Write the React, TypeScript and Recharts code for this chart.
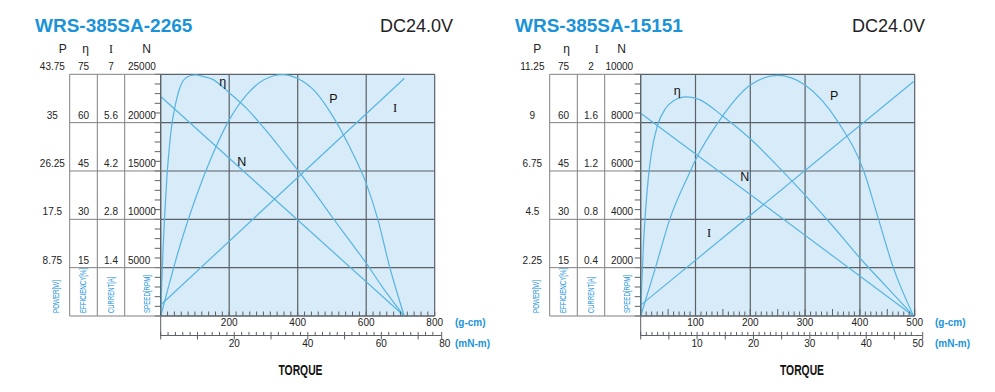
import React from 'react';
import { ComposedChart, Line, XAxis, YAxis, CartesianGrid, ReferenceDot } from 'recharts';

// ---- WRS-385SA-2265 (left) : torque in g-cm ----
const L_SPEED_T = [0, 711];
const L_SPEED = [22700, 0];
const L_CURRENT_T = [0, 711];
const L_CURRENT = [0.32, 6.88];
const L_POWER_T = [0, 25, 50, 100, 150, 200, 250, 300, 356, 400, 450, 500, 550, 600, 634, 668, 711];
const L_POWER = [0, 5.8, 11.4, 21.0, 29.0, 35.5, 40.0, 42.7, 43.7, 43.0, 40.7, 36.4, 30.8, 24.0, 17.5, 9.0, 0];
const L_EFF_T = [0, 3, 7, 12, 18, 25, 32, 40, 55, 75, 100, 125, 150, 200, 250, 300, 350, 400, 450, 500, 550, 600, 650, 711];
const L_EFF = [0, 10, 21, 32, 43, 52, 59, 64, 70.5, 74, 74.8, 74.3, 73.5, 69.3, 64.5, 58.5, 52, 45.3, 38.2, 30.8, 23.6, 16.4, 8.6, 0];

const L_GCM = [0, 200, 400, 600, 800];
const L_MNM = [20, 40, 60, 80];
const L_P_TICKS = [0, 8.75, 17.5, 26.25, 35, 43.75];
const L_I_TICKS = [0, 1.4, 2.8, 4.2, 5.6, 7];
const L_N_TICKS = [0, 5000, 10000, 15000, 20000, 25000];

// ---- WRS-385SA-15151 (right) ----
const R_SPEED_T = [0, 498];
const R_SPEED = [8390, 0];
const R_CURRENT_T = [0, 498];
const R_CURRENT = [0.09, 1.94];
const R_POWER_T = [0, 27, 53, 88, 100, 141, 200, 250, 300, 361, 407, 434, 461, 498];
const R_POWER = [0, 2.25, 4.5, 6.6, 7.26, 9.0, 10.75, 11.2, 10.75, 9.0, 6.75, 4.5, 2.25, 0];
const R_EFF_T = [0, 2, 5, 9, 14, 20, 30, 45, 60, 83, 105, 150, 200, 250, 300, 350, 400, 450, 498];
const R_EFF = [0, 10, 22, 33, 43, 51, 58.8, 64.3, 66.8, 68, 67.3, 62, 55, 46.5, 37.5, 28, 18, 8.8, 0];

const R_GCM = [0, 100, 200, 300, 400, 500];
const R_MNM = [10, 20, 30, 40, 50];
const R_P_TICKS = [0, 2.25, 4.5, 6.75, 9, 11.25];
const R_I_TICKS = [0, 0.4, 0.8, 1.2, 1.6, 2];
const R_N_TICKS = [0, 2000, 4000, 6000, 8000, 10000];

const EFF_TICKS = [0, 15, 30, 45, 60, 75];

// axis ids: recharts stacks same-side axes in id order, so prefix them
const Y_N = 'y1N';
const Y_I = 'y2I';
const Y_E = 'y3E';
const Y_P = 'y4P';
const X_G = 'x1g';
const X_MN = 'x2mn';
const X_GRID = 'x9grid';

// curve name labels (torque, value on its own axis)
const L_NOTES = [
  { name: 'η', t: 181, v: 72.7, axis: Y_E },
  { name: 'P', t: 504, v: 39.2, axis: Y_P },
  { name: 'I', t: 684, v: 6.03, axis: Y_I },
  { name: 'N', t: 237, v: 15960, axis: Y_N },
];
const R_NOTES = [
  { name: 'η', t: 66.8, v: 69.7, axis: Y_E },
  { name: 'P', t: 353, v: 10.24, axis: Y_P },
  { name: 'I', t: 124.6, v: 0.684, axis: Y_I },
  { name: 'N', t: 190, v: 5740, axis: Y_N },
];

const SANS = "'Liberation Sans', Arial, sans-serif";
const SERIF = "'Liberation Serif', 'DejaVu Serif', serif";
const BLUE = '#1a93d9';
const TXT = '#222';
const CURVE = '#58b5e1';
const GRID = '#5b6166';
const COLLINE = '#808080';
const BG = '#d7ebf8';

const W = 500;
const H = 392;
const PLOT_R = 434.7;
const AXIS_Y2 = 335.5;

const zip = (t: number[], v: number[]) => t.map((x, i) => ({ t: x, v: v[i] }));
const subdivide = (majors: number[], parts: number) => {
  const out: number[] = [];
  for (let i = 0; i < majors.length - 1; i++) {
    const a = majors[i];
    const b = majors[i + 1];
    for (let k = 0; k < parts; k++) out.push(+(a + ((b - a) * k) / parts).toFixed(4));
  }
  out.push(majors[majors.length - 1]);
  return out;
};
const range = (max: number, step: number) => {
  const out: number[] = [];
  for (let k = 0; k * step <= max + 1e-9; k++) out.push(+(k * step).toFixed(4));
  return out;
};

type Anchor = 'start' | 'middle' | 'end';

// tick renderer for the value columns on the left of the plot
function colTick(o: { width: number; majors: number[]; name: string; nameLen: number; lines: boolean; minor?: boolean; anchor: Anchor }) {
  return (p: any) => {
    const v = p.payload.value as number;
    const x = p.x as number;
    const y = p.y as number;
    const isMajor = o.majors.includes(v);
    const tx = o.anchor === 'start' ? x - o.width + 3.3 : o.anchor === 'end' ? x - 7.5 : x - o.width / 2;
    return (
      <g>
        {o.minor && <line x1={x - 6} x2={x} y1={y} y2={y} stroke={GRID} strokeWidth={1} />}
        {isMajor && o.lines && <line x1={x - o.width} x2={x} y1={y} y2={y} stroke={COLLINE} strokeWidth={1} />}
        {isMajor && v !== 0 && (
          <text x={tx} y={y - 4} textAnchor={o.anchor} fontSize={10} fill={TXT} fontFamily={SANS}>
            {v}
          </text>
        )}
        {v === 0 && (
          <text
            x={x - 11}
            y={y - 3}
            transform={`rotate(-90 ${x - 11} ${y - 3})`}
            fontSize={9.5}
            fill={BLUE}
            fontFamily={SANS}
            textLength={o.nameLen}
            lengthAdjust="spacingAndGlyphs"
          >
            {o.name}
          </text>
        )}
      </g>
    );
  };
}

function gTick(labels: number[], half: number | null) {
  return (p: any) => {
    const v = p.payload.value as number;
    const len = half !== null && v % half === 0 ? 7 : 4.5;
    return (
      <g>
        <line x1={p.x} x2={p.x} y1={p.y - len} y2={p.y} stroke={GRID} strokeWidth={1} />
        {labels.includes(v) && v !== 0 && (
          <text x={p.x} y={p.y + 10} textAnchor="middle" fontSize={10} fill={TXT} fontFamily={SANS}>
            {v}
          </text>
        )}
      </g>
    );
  };
}

function mnTick(labels: number[], major: number) {
  return (p: any) => {
    const v = p.payload.value as number;
    const isMajor = v % major === 0;
    return (
      <g>
        {v === 0 && <line x1={p.x} x2={p.x} y1={p.y - 19.5} y2={p.y} stroke={GRID} strokeWidth={1} />}
        <line x1={p.x} x2={p.x} y1={p.y - 3.6} y2={p.y + (isMajor ? 4 : 0)} stroke={GRID} strokeWidth={1} />
        {labels.includes(v) && (
          <text x={p.x} y={p.y + 11.5} textAnchor="middle" fontSize={10} fill={TXT} fontFamily={SANS}>
            {v}
          </text>
        )}
      </g>
    );
  };
}

interface PanelCfg {
  left: number;
  title: string;
  titleX: number;
  dcX: number;
  heads: number[];
  torqueX: number;
  endLabelX: number;
  extEnd: number;
  gcm: number[];
  gParts: number;
  gHalf: number | null;
  mnm: number[];
  mnMax: number;
  mnStep: number;
  mnMajor: number;
  pTicks: number[];
  iTicks: number[];
  nTicks: number[];
  nAnchor: Anchor;
  speed: { t: number; v: number }[];
  current: { t: number; v: number }[];
  power: { t: number; v: number }[];
  eff: { t: number; v: number }[];
  notes: { name: string; t: number; v: number; axis: string }[];
}

const Panel: React.FC<{ c: PanelCfg }> = ({ c }) => {
  const gMax = c.gcm[c.gcm.length - 1];
  const mnLabelsIn = c.mnm.filter((m) => m <= c.mnMax);
  const mnEnd = c.mnm[c.mnm.length - 1];
  return (
    <div style={{ position: 'absolute', left: c.left, top: 0, width: W, height: H }}>
      <ComposedChart width={W} height={H} margin={{ top: 74.3, right: W - PLOT_R, bottom: 30.5, left: 35 }}>
        <XAxis
          xAxisId={X_G}
          type="number"
          dataKey="t"
          domain={[0, gMax]}
          ticks={subdivide(c.gcm, c.gParts)}
          interval={0}
          tickSize={0}
          tickMargin={0}
          tickLine={false}
          axisLine={{ stroke: GRID, strokeWidth: 1.2 }}
          tick={gTick(c.gcm, c.gHalf)}
          height={19.5}
        />
        <XAxis
          xAxisId={X_MN}
          type="number"
          dataKey="t"
          domain={[0, c.mnMax]}
          allowDataOverflow
          ticks={range(c.mnMax, c.mnStep)}
          interval={0}
          tickSize={0}
          tickMargin={0}
          tickLine={false}
          axisLine={{ stroke: GRID, strokeWidth: 1 }}
          tick={mnTick(mnLabelsIn, c.mnMajor)}
          height={26}
        />
        <XAxis xAxisId={X_GRID} type="number" dataKey="t" domain={[0, gMax]} allowDataOverflow ticks={c.gcm} height={0} hide />
        <YAxis
          yAxisId={Y_N}
          type="number"
          domain={[0, c.nTicks[c.nTicks.length - 1]]}
          ticks={subdivide(c.nTicks, 5)}
          interval={0}
          tickSize={0}
          tickMargin={0}
          tickLine={false}
          axisLine={{ stroke: GRID, strokeWidth: 1 }}
          width={36}
          tick={colTick({ width: 36, majors: c.nTicks, name: 'SPEED[RPM]', nameLen: 38, lines: true, minor: true, anchor: c.nAnchor })}
        />
        <YAxis
          yAxisId={Y_I}
          type="number"
          domain={[0, c.iTicks[c.iTicks.length - 1]]}
          ticks={c.iTicks}
          interval={0}
          tickSize={0}
          tickMargin={0}
          tickLine={false}
          axisLine={{ stroke: COLLINE, strokeWidth: 1 }}
          width={27.4}
          tick={colTick({ width: 27.4, majors: c.iTicks, name: 'CURRENT[A]', nameLen: 36.5, lines: true, anchor: 'middle' })}
        />
        <YAxis
          yAxisId={Y_E}
          type="number"
          domain={[0, 75]}
          ticks={EFF_TICKS}
          interval={0}
          tickSize={0}
          tickMargin={0}
          tickLine={false}
          axisLine={{ stroke: COLLINE, strokeWidth: 1 }}
          width={27.6}
          tick={colTick({ width: 27.6, majors: EFF_TICKS, name: 'EFFICIENCY[%]', nameLen: 45, lines: true, anchor: 'middle' })}
        />
        <YAxis
          yAxisId={Y_P}
          type="number"
          domain={[0, c.pTicks[c.pTicks.length - 1]]}
          ticks={c.pTicks}
          interval={0}
          tickSize={0}
          tickMargin={0}
          tickLine={false}
          axisLine={{ stroke: COLLINE, strokeWidth: 1 }}
          width={34.7}
          tick={colTick({ width: 34.7, majors: c.pTicks, name: 'POWER[W]', nameLen: 33, lines: false, anchor: 'middle' })}
        />
        <CartesianGrid xAxisId={X_GRID} yAxisId={Y_P} fill={BG} fillOpacity={1} stroke={GRID} strokeWidth={1.2} />
        <Line xAxisId={X_G} yAxisId={Y_N} data={c.speed} dataKey="v" type="linear" dot={false} stroke={CURVE} strokeWidth={1.2} isAnimationActive={false} />
        <Line xAxisId={X_G} yAxisId={Y_I} data={c.current} dataKey="v" type="linear" dot={false} stroke={CURVE} strokeWidth={1.2} isAnimationActive={false} />
        <Line xAxisId={X_G} yAxisId={Y_P} data={c.power} dataKey="v" type="monotone" dot={false} stroke={CURVE} strokeWidth={1.2} isAnimationActive={false} />
        <Line xAxisId={X_G} yAxisId={Y_E} data={c.eff} dataKey="v" type="monotone" dot={false} stroke={CURVE} strokeWidth={1.2} isAnimationActive={false} />
        {c.notes.map((n) => (
          <ReferenceDot
            key={n.name}
            xAxisId={X_G}
            yAxisId={n.axis}
            x={n.t}
            y={n.v}
            r={0}
            shape={(p: any) => (
              <text
                x={p.cx}
                y={p.cy}
                textAnchor="middle"
                dominantBaseline="central"
                fontSize={12.5}
                fill="#111"
                fontFamily={n.name === 'I' ? SERIF : SANS}
              >
                {n.name}
              </text>
            )}
          />
        ))}
      </ComposedChart>
      <svg width={W} height={H} style={{ position: 'absolute', left: 0, top: 0, pointerEvents: 'none' }}>
        <text x={c.titleX} y={32.3} fontSize={19} fontWeight="bold" fill={BLUE} fontFamily={SANS}>
          {c.title}
        </text>
        <text x={c.dcX} y={32.3} fontSize={18} fill={TXT} fontFamily={SANS}>
          DC24.0V
        </text>
        {['P', 'η', 'I', 'N'].map((h, i) => (
          <text key={h} x={c.heads[i]} y={52.7} textAnchor="middle" fontSize={12} fill={TXT} fontFamily={h === 'I' ? SERIF : SANS}>
            {h}
          </text>
        ))}
        <line x1={PLOT_R} x2={c.extEnd} y1={AXIS_Y2} y2={AXIS_Y2} stroke={GRID} strokeWidth={1} />
        <line x1={c.extEnd} x2={c.extEnd} y1={AXIS_Y2 - 3.6} y2={AXIS_Y2 + 4} stroke={GRID} strokeWidth={1} />
        <text x={c.endLabelX} y={AXIS_Y2 + 11.5} textAnchor="middle" fontSize={10} fill={TXT} fontFamily={SANS}>
          {mnEnd}
        </text>
        <text x={455} y={326} fontSize={10} fontWeight="bold" fill={BLUE} fontFamily={SANS}>
          (g-cm)
        </text>
        <text x={455} y={347} fontSize={10} fontWeight="bold" fill={BLUE} fontFamily={SANS}>
          (mN-m)
        </text>
        <text x={c.torqueX} y={375} textAnchor="middle" fontSize={15} fontWeight="bold" fill="#111" fontFamily={SANS} textLength={44} lengthAdjust="spacingAndGlyphs">
          TORQUE
        </text>
      </svg>
    </div>
  );
};

const LEFT: PanelCfg = {
  left: 0,
  title: 'WRS-385SA-2265',
  titleX: 35,
  dcX: 380,
  heads: [62.7, 85.7, 111, 146.7],
  torqueX: 300.5,
  endLabelX: 444.7,
  extEnd: 441.7,
  gcm: L_GCM,
  gParts: 10,
  gHalf: null,
  mnm: L_MNM,
  mnMax: 74.5,
  mnStep: 2,
  mnMajor: 10,
  pTicks: L_P_TICKS,
  iTicks: L_I_TICKS,
  nTicks: L_N_TICKS,
  nAnchor: 'start',
  speed: zip(L_SPEED_T, L_SPEED),
  current: zip(L_CURRENT_T, L_CURRENT),
  power: zip(L_POWER_T, L_POWER),
  eff: zip(L_EFF_T, L_EFF),
  notes: L_NOTES,
};

const RIGHT: PanelCfg = {
  left: 480,
  title: 'WRS-385SA-15151',
  titleX: 35,
  dcX: 372,
  heads: [57.3, 86.7, 116.7, 141.7],
  torqueX: 322,
  endLabelX: 438,
  extEnd: 442.7,
  gcm: R_GCM,
  gParts: 10,
  gHalf: 50,
  mnm: R_MNM,
  mnMax: 48.6,
  mnStep: 1,
  mnMajor: 5,
  pTicks: R_P_TICKS,
  iTicks: R_I_TICKS,
  nTicks: R_N_TICKS,
  nAnchor: 'end',
  speed: zip(R_SPEED_T, R_SPEED),
  current: zip(R_CURRENT_T, R_CURRENT),
  power: zip(R_POWER_T, R_POWER),
  eff: zip(R_EFF_T, R_EFF),
  notes: R_NOTES,
};

export default function App() {
  return (
    <div style={{ position: 'absolute', left: 0, top: 0, width: 995, height: 392, background: '#fff', overflow: 'hidden' }}>
      <Panel c={LEFT} />
      <Panel c={RIGHT} />
    </div>
  );
}
